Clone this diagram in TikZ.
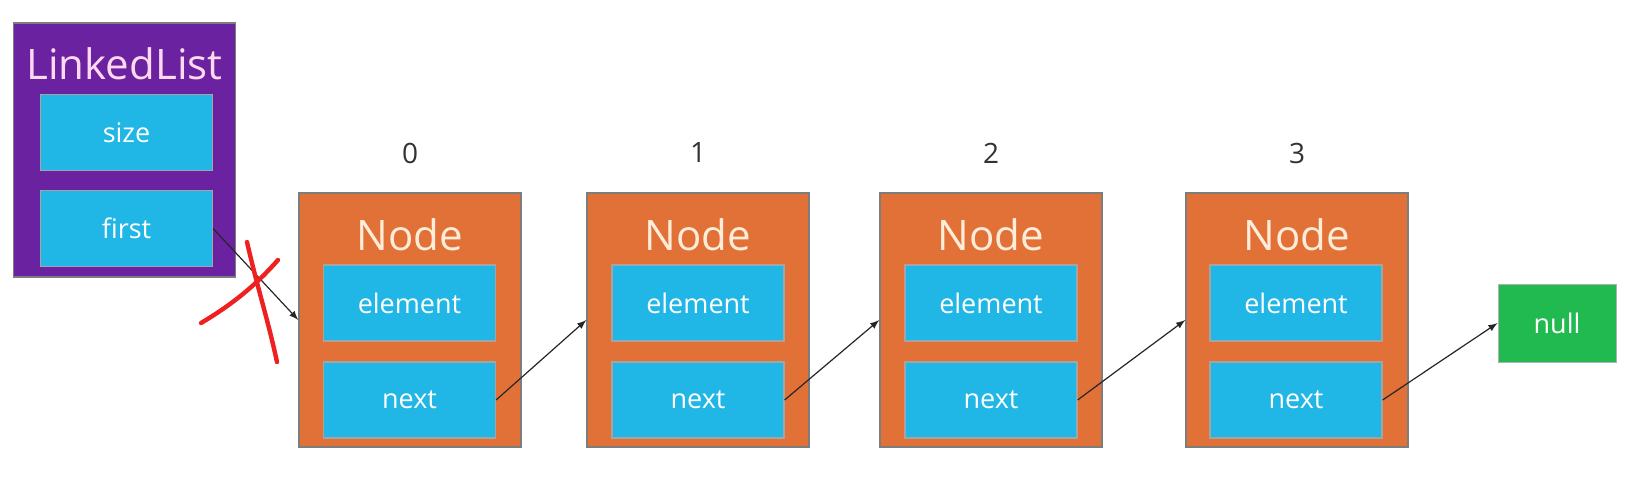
\documentclass[tikz,border=0pt]{standalone}
\usepackage{fontspec}
\setmainfont{Open Sans}
\definecolor{listpurple}{RGB}{106,34,160}
\definecolor{nodeorange}{RGB}{226,113,55}
\definecolor{fieldblue}{RGB}{32,182,230}
\definecolor{nullgreen}{RGB}{33,186,80}
\definecolor{boxgray}{RGB}{125,125,125}
\definecolor{penred}{RGB}{238,32,32}

\begin{document}
\begin{tikzpicture}[x=0.5pt, y=-0.5pt,
    holder/.style={draw=boxgray, line width=0.7pt, minimum width=111pt, minimum height=127pt, inner sep=0pt},
    field/.style={draw=boxgray!70, line width=0.6pt, fill=fieldblue, text=white, font=\fontsize{13.5}{15}\selectfont, minimum width=86pt, minimum height=38pt, inner sep=0pt},
    title/.style={anchor=base, font=\fontsize{21}{24}\selectfont},
    index/.style={font=\fontsize{14}{16}\selectfont, text=black!80},
    link/.style={->, >=latex, line width=0.6pt, black!85}]
            \fill[white] (0,0) rectangle (1636,492);

            % LinkedList
            \node[holder, fill=listpurple] (list) at (124.5,150) {};
            \node[title, text=white!85!magenta] (listtitle) at (124.5,80) {LinkedList};
            \node[field] (size) at (126.5,132.5) {size};
            \node[field] (first) at (126.5,228.5) {first};

            % Node 0
            \node[index] (i0) at (410,153) {0};
            \node[holder, fill=nodeorange] (n0) at (410,320) {};
            \node[title, text=white!85!orange] (t0) at (410,250) {Node};
            \node[field] (e0) at (409.5,303) {element};
            \node[field] (x0) at (409.5,400) {next};

            % Node 1
            \node[index] (i1) at (698,153) {1};
            \node[holder, fill=nodeorange] (n1) at (698,320) {};
            \node[title, text=white!85!orange] (t1) at (698,250) {Node};
            \node[field] (e1) at (698,303) {element};
            \node[field] (x1) at (698,400) {next};

            % Node 2
            \node[index] (i2) at (991,153) {2};
            \node[holder, fill=nodeorange] (n2) at (991,320) {};
            \node[title, text=white!85!orange] (t2) at (991,250) {Node};
            \node[field] (e2) at (991,303) {element};
            \node[field] (x2) at (991,400) {next};

            % Node 3
            \node[index] (i3) at (1297,153) {3};
            \node[holder, fill=nodeorange] (n3) at (1297,320) {};
            \node[title, text=white!85!orange] (t3) at (1297,250) {Node};
            \node[field] (e3) at (1296,303) {element};
            \node[field] (x3) at (1296,400) {next};

            \node[draw=boxgray!60, fill=nullgreen, text=white, font=\fontsize{13.5}{15}\selectfont, minimum width=59pt, minimum height=39pt, inner sep=0pt] (null) at (1557,323) {null};

            \draw[link] (first.east) -- (n0.west);
            \draw[link] (x0.east) -- (n1.west);
            \draw[link] (x1.east) -- (n2.west);
            \draw[link] (x2.east) -- (n3.west);
            \draw[link] (x3.east) -- (null.west);

            % red cross
            \draw[penred, line width=2.2pt, line cap=round] (201,323) .. controls (240,300) and (262,278) .. (278,260);
            \draw[penred, line width=2.2pt, line cap=round] (247,242) .. controls (258,290) and (268,320) .. (277,362);
        \end{tikzpicture}
\end{document}
